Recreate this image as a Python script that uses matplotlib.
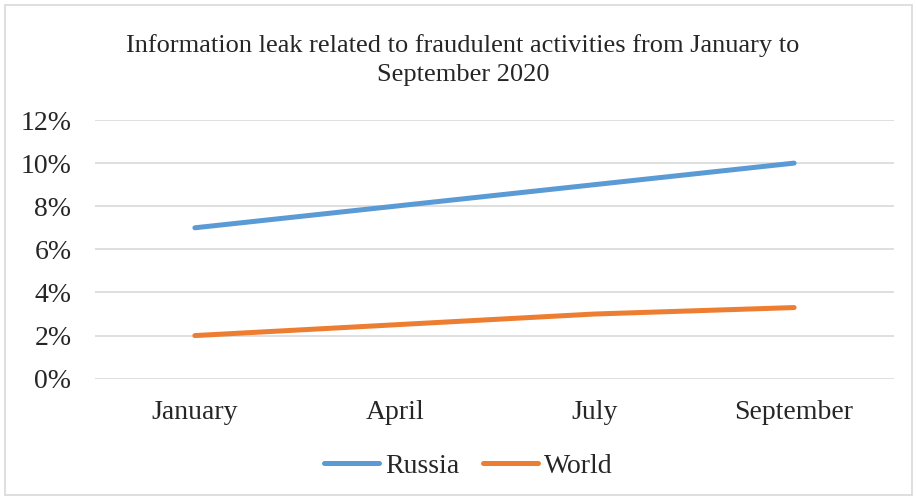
import matplotlib
matplotlib.use("Agg")
import matplotlib.pyplot as plt
from matplotlib.patches import Rectangle

categories = ["January", "April", "July", "September"]
russia = [7.0, 8.0, 9.0, 10.0]
world = [2.0, 2.5, 3.0, 3.3]
yticks = [0, 2, 4, 6, 8, 10, 12]
ytick_labels = ["0%", "2%", "4%", "6%", "8%", "10%", "12%"]
title = "Information leak related to fraudulent activities from January to\nSeptember 2020"

plt.rcParams['font.family'] = ['Liberation Serif', 'DejaVu Serif']

fig = plt.figure(figsize=(9.17, 4.99), dpi=100)
fig.patches.append(Rectangle((5/917, 4/499), 907/917, 490/499, transform=fig.transFigure,
                             fill=False, edgecolor='#D9D9D9', linewidth=1.2))

ax = fig.add_axes([95/917, 1 - 378.7/499, (894-95)/917, (378.7-120)/499])
x = range(len(categories))
ax.plot(x, russia, color='#5B9BD5', linewidth=3.6, solid_capstyle='round', label='Russia', zorder=3)
ax.plot(x, world, color='#ED7D31', linewidth=3.6, solid_capstyle='round', label='World', zorder=3)

ax.set_xlim(-0.5, len(categories) - 0.5)
ax.set_ylim(0, 12)
ax.set_yticks(yticks)
ax.set_yticklabels(ytick_labels)
ax.set_xticks(list(x))
ax.set_xticklabels(categories)
ax.grid(axis='y', color='#D9D9D9', linewidth=1.2)
ax.set_axisbelow(True)
for s in ax.spines.values():
    s.set_visible(False)
ax.tick_params(axis='both', length=0, labelsize=20, colors='#262626')
ax.tick_params(axis='y', pad=17)
ax.tick_params(axis='x', pad=15.5)

fig.text(0.505, 1 - 60/499, title, ha='center', va='center', fontsize=19,
         color='#262626', linespacing=1.38)

fig.legend(loc='center', bbox_to_anchor=(468/917, 1 - 466/499), ncol=2, frameon=False,
           fontsize=20, handlelength=2.0, handletextpad=0.2, columnspacing=0.85,
           labelcolor='#262626')

fig.savefig("out.png", dpi=100)
